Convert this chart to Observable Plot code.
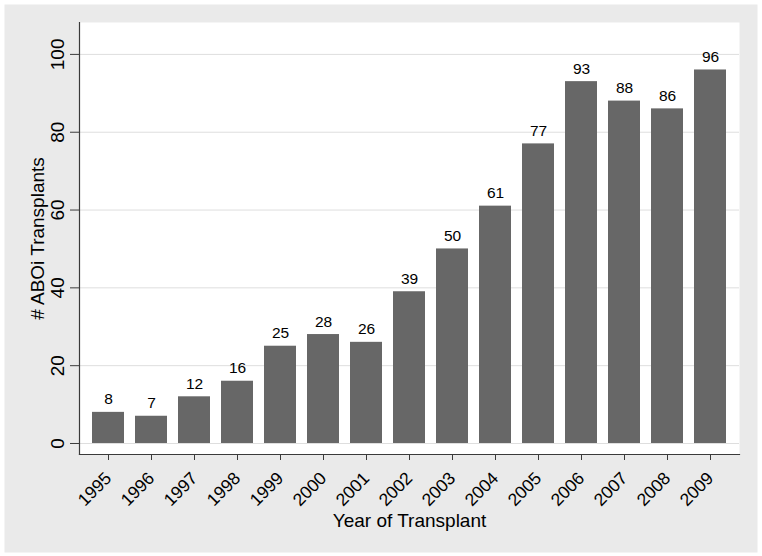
<!DOCTYPE html>
<html>
<head>
<meta charset="utf-8">
<script src="https://cdn.jsdelivr.net/npm/d3@7"></script>
<script src="https://cdn.jsdelivr.net/npm/@observablehq/plot@0.6"></script>
<style>
  html, body { margin: 0; padding: 0; background: white; }
  #chart svg { display: block; }
</style>
</head>
<body>
<div id="chart"></div>
<script>
const years = ["1995","1996","1997","1998","1999","2000","2001","2002","2003","2004","2005","2006","2007","2008","2009"];
const counts = [8, 7, 12, 16, 25, 28, 26, 39, 50, 61, 77, 93, 88, 86, 96];
const yTicks = [0, 20, 40, 60, 80, 100];
const xTitle = "Year of Transplant";
const yTitle = "# ABOi Transplants";

const data = years.map((year, i) => ({year, count: counts[i]}));
const font = "'Liberation Sans', Arial, Helvetica, sans-serif";
const axisColor = "#3a3a3a";

const chart = Plot.plot({
  width: 762,
  height: 556,
  marginLeft: 79,
  marginRight: 23,
  marginTop: 22,
  marginBottom: 102,
  style: {fontFamily: font, color: "black", background: "white"},
  x: {type: "band", domain: years, paddingInner: 0.26, paddingOuter: 0.255, label: null},
  y: {domain: [-2.83, 108.2], label: null},
  marks: [
    Plot.frame({fill: "#eaeaea", stroke: null, insetLeft: -75, insetTop: -18, insetRight: -18, insetBottom: -98}),
    Plot.frame({fill: "white", stroke: null}),
    Plot.gridY(yTicks, {stroke: "#dedede", strokeOpacity: 1, strokeWidth: 1}),
    Plot.barY(data, {x: "year", y: "count", fill: "#676767"}),
    Plot.text(data, {x: "year", y: "count", text: d => String(d.count), dy: -8, lineAnchor: "bottom", fontSize: 15.5, fill: "black"}),
    Plot.frame({anchor: "left", stroke: axisColor, strokeWidth: 1.2}),
    Plot.frame({anchor: "bottom", stroke: axisColor, strokeWidth: 1.2}),
    Plot.axisY(yTicks, {tickSize: 9, tickRotate: -90, tickPadding: 7, fontSize: 19, stroke: axisColor, label: null}),
    Plot.axisX({tickRotate: -45, tickSize: 6, tickPadding: 15, fontSize: 17.5, stroke: axisColor, label: null}),
    Plot.text([xTitle], {frameAnchor: "bottom", dy: 72, textAnchor: "middle", lineAnchor: "bottom", fontSize: 19, fill: "black"}),
    Plot.text([yTitle], {frameAnchor: "left", rotate: -90, dx: -36, textAnchor: "middle", lineAnchor: "bottom", fontSize: 19, fill: "black"})
  ]
});
document.getElementById("chart").append(chart);
</script>
</body>
</html>
